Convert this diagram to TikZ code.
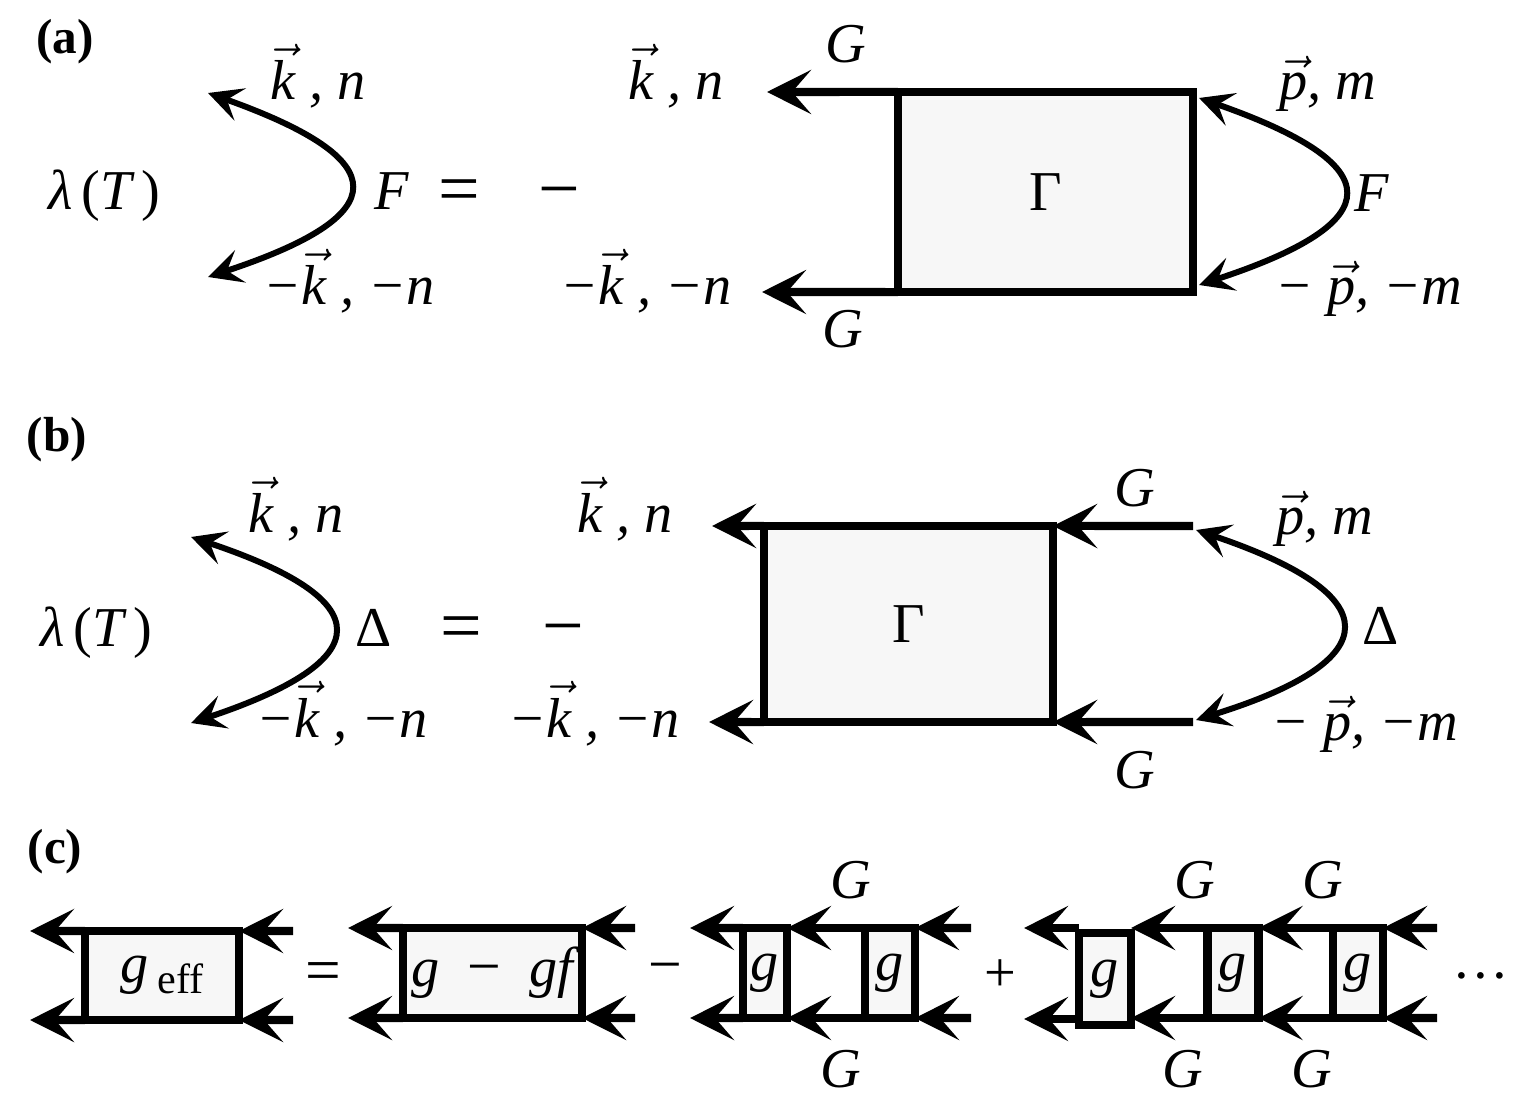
\documentclass[tikz,border=0pt]{standalone}
\usepackage{amsmath}
\usepackage{fontspec}
\setmainfont{Liberation Serif}
\usepackage{tikz}
\usetikzlibrary{arrows.meta, positioning}

% italic letter with a vector arrow
\newcommand{\vk}[1]{\ensuremath{\vec{\mbox{\itshape #1}}}}
% the big = and - between the terms
\newcommand{\bigop}[2][21]{{\upshape\fontsize{#1}{#1}\selectfont #2}}

\begin{document}
\begin{tikzpicture}[x=0.01cm, y=-0.01cm,
    lbl/.style={font=\fontsize{16}{19}\selectfont\itshape, inner sep=0pt, anchor=base},
    tag/.style={font=\fontsize{14}{16}\selectfont\bfseries, inner sep=0pt},
    vertex/.style={draw, line width=2.3pt, fill=black!3, inner sep=0pt, outer sep=0pt,
        font=\fontsize{16}{19}\selectfont},
    prop/.style={line width=2.3pt, -{Stealth[length=4.4mm, width=4.4mm, inset=1.9mm]}},
    pair/.style={line width=1.7pt,
        {Stealth[length=3.4mm, width=3.4mm, inset=1.4mm]}-{Stealth[length=3.4mm, width=3.4mm, inset=1.4mm]}}]

    \useasboundingbox (0,0) rectangle (1528,1107);

    % (a) equation for F
    \node[tag] (taga) at (65,42) {(a)};
    \node[lbl] (lama) at (104,210) {λ\,{\upshape(}T\,{\upshape)}};
    \coordinate (ua) at (208,93);
    \coordinate (da) at (208,277);
    \draw[pair] (ua) .. controls (396,160) and (396,215) .. (da);
    \node[lbl] (kna) at (318,100) {\vk{k} , n};
    \node[lbl] (Fa) at (392,210) {F};
    \node[lbl] (eqa) at (459,214) {\bigop{=}};
    \node[lbl] (mia) at (559,214) {\bigop{−}};
    \node[lbl] (mkna) at (349,305) {−\vk{k} , −n};
    \node[lbl] (knar) at (676,100) {\vk{k} , n};
    \node[lbl] (mknar) at (646,305) {−\vk{k} , −n};

    % vertex and the two G lines
    \node[vertex, minimum width=2.95cm, minimum height=2cm] (gama) at (1045.5,192) {Γ};
    \coordinate (gua) at (767,92);
    \coordinate (gda) at (762,292);
    \draw[prop] (gama.north west) -- (gua);
    \draw[prop] (gama.south west) -- (gda);
    \node[lbl] (Gua) at (846,63) {G};
    \node[lbl] (Gda) at (843,348) {G};

    \coordinate (upa) at (1199,98);
    \coordinate (dpa) at (1199,285);
    \draw[pair] (upa) .. controls (1391,165) and (1391,222) .. (dpa);
    \node[lbl] (pma) at (1328,100) {\vk{p}, m};
    \node[lbl] (Fra) at (1372,212) {F};
    \node[lbl] (mpma) at (1369,305) {− \vk{p}, −m};

    % (b) equation for Delta
    \node[tag] (tagb) at (57,440) {(b)};
    \node[lbl] (lamb) at (96,647) {λ\,{\upshape(}T\,{\upshape)}};
    \coordinate (ub) at (191,537);
    \coordinate (db) at (191,723);
    \draw[pair] (ub) .. controls (380,600) and (380,660) .. (db);
    \node[lbl] (knb) at (296,533) {\vk{k} , n};
    \node[lbl] (Db) at (374,647) {\upshape Δ};
    \node[lbl] (eqb) at (461,650) {\bigop{=}};
    \node[lbl] (mib) at (563,650) {\bigop{−}};
    \node[lbl] (mknb) at (342,737) {−\vk{k} , −n};
    \node[lbl] (knbr) at (625,533) {\vk{k} , n};
    \node[lbl] (mknbr) at (594,737) {−\vk{k} , −n};

    \node[vertex, minimum width=2.89cm, minimum height=1.96cm] (gamb) at (908.5,624) {Γ};
    \coordinate (kub) at (712,526);
    \coordinate (kdb) at (709,722);
    \draw[prop] (gamb.north west) -- (kub);
    \draw[prop] (gamb.south west) -- (kdb);
    \coordinate (gub) at (1193,526);
    \coordinate (gdb) at (1193,722);
    \draw[prop] (gub) -- (gamb.north east);
    \draw[prop] (gdb) -- (gamb.south east);
    \node[lbl] (Gub) at (1135,507) {G};
    \node[lbl] (Gdb) at (1135,788) {G};

    \coordinate (upb) at (1196,530);
    \coordinate (dpb) at (1196,720);
    \draw[pair] (upb) .. controls (1389,595) and (1389,660) .. (dpb);
    \node[lbl] (pmb) at (1325,535) {\vk{p}, m};
    \node[lbl] (Drb) at (1381,645) {\upshape Δ};
    \node[lbl] (mpmb) at (1365,740) {− \vk{p}, −m};

    % (c) ladder series
    \node[tag] (tagc) at (55,852) {(c)};
    \node[vertex, minimum width=1.54cm, minimum height=0.89cm] (ge) at (162,975.5)
        {\itshape g\,\upshape\raisebox{-0.4ex}{\fontsize{12}{12}\selectfont eff}};
    \coordinate (l1u) at (30,931);
    \coordinate (l1d) at (30,1020);
    \coordinate (r1u) at (293,931);
    \coordinate (r1d) at (293,1020);
    \draw[prop] (ge.north west) -- (l1u);
    \draw[prop] (ge.south west) -- (l1d);
    \draw[prop] (r1u) -- (ge.north east);
    \draw[prop] (r1d) -- (ge.south east);
    \node[lbl] (eqc) at (323,991) {\bigop[18]{=}};

    \node[vertex, minimum width=1.79cm, minimum height=0.9cm] (gf) at (492.5,973)
        {\itshape g\enskip\bigop[17]{−}\enskip\itshape gf};
    \coordinate (l2u) at (348,928);
    \coordinate (l2d) at (348,1018);
    \coordinate (r2u) at (635,928);
    \coordinate (r2d) at (635,1018);
    \draw[prop] (gf.north west) -- (l2u);
    \draw[prop] (gf.south west) -- (l2d);
    \draw[prop] (r2u) -- (gf.north east);
    \draw[prop] (r2d) -- (gf.south east);
    \node[lbl] (mic) at (665,984) {\bigop[17]{−}};

    % second order
    \node[vertex, minimum width=0.44cm, minimum height=0.9cm] (g3) at (765,973) {\itshape g};
    \node[vertex, minimum width=0.5cm, minimum height=0.9cm] (g4) at (890,973) {\itshape g};
    \coordinate (l3u) at (690,928);
    \coordinate (l3d) at (690,1018);
    \coordinate (r4u) at (971,928);
    \coordinate (r4d) at (971,1018);
    \draw[prop] (g3.north west) -- (l3u);
    \draw[prop] (g3.south west) -- (l3d);
    \draw[prop] (g4.north west) -- (g3.north east);
    \draw[prop] (g4.south west) -- (g3.south east);
    \draw[prop] (r4u) -- (g4.north east);
    \draw[prop] (r4d) -- (g4.south east);
    \node[lbl] (Gc1) at (851,898) {G};
    \node[lbl] (Gc2) at (841,1087) {G};
    \node[lbl] (plc) at (1000,991) {\upshape +};

    % third order
    \node[vertex, minimum width=0.52cm, minimum height=0.92cm] (g5) at (1105,979) {\itshape g};
    \node[vertex, minimum width=0.51cm, minimum height=0.9cm] (g6) at (1233,973) {\itshape g};
    \node[vertex, minimum width=0.5cm, minimum height=0.9cm] (g7) at (1358,973) {\itshape g};
    \coordinate (l5u) at (1024,928);
    \coordinate (l5d) at (1024,1019);
    \coordinate (r7u) at (1437,928);
    \coordinate (r7d) at (1437,1018);
    \draw[prop] (l5u -| g5.west) -- (l5u);
    \draw[prop] (l5d -| g5.west) -- (l5d);
    \draw[prop] (g6.north west) -- (g6.north west -| g5.east);
    \draw[prop] (g6.south west) -- (g6.south west -| g5.east);
    \draw[prop] (g7.north west) -- (g6.north east);
    \draw[prop] (g7.south west) -- (g6.south east);
    \draw[prop] (r7u) -- (g7.north east);
    \draw[prop] (r7d) -- (g7.south east);
    \foreach \x/\n in {1195/3, 1323/4} \node[lbl] (Gc\n) at (\x,898) {G};
    \foreach \x/\n in {1183/5, 1312/6} \node[lbl] (Gc\n) at (\x,1087) {G};
    \node[lbl] (dots) at (1481,994) {\upshape ···};

\end{tikzpicture}
\end{document}
